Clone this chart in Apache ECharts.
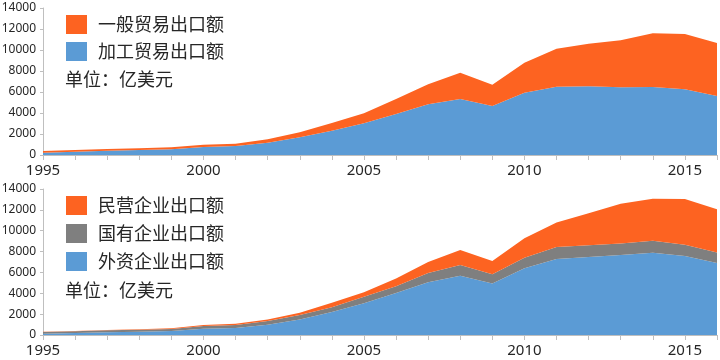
<!DOCTYPE html>
<html><head><meta charset="utf-8">
<script src="https://cdn.jsdelivr.net/npm/echarts@6/dist/echarts.min.js"></script>
<style>html,body{margin:0;padding:0;background:#fff}#c{width:720px;height:360px}</style>
</head><body><div id="c"></div>
<script>
const years = ['1995','1996','1997','1998','1999','2000','2001','2002','2003','2004','2005','2006','2007','2008','2009','2010','2011','2012','2013','2014','2015','2016'];
// Top chart
const processingExport = [220,320,410,475,540,760,855,1175,1685,2320,3015,3905,4825,5335,4665,5935,6510,6540,6445,6475,6255,5620];
const generalExport = [160,160,160,160,190,220,225,320,475,730,950,1430,1905,2510,2030,2860,3620,4065,4475,5110,5270,5050];
// Bottom chart
const foreignExport = [127,190,254,318,382,604,668,986,1495,2194,3053,4039,5056,5692,4929,6392,7282,7473,7664,7886,7568,6901];
const stateExport = [163,160,191,191,190,255,286,350,413,477,604,636,891,1018,890,1017,1145,1145,1113,1145,1082,1017];
const privateExport = [28,32,32,31,64,95,127,159,223,414,445,731,1049,1431,1272,1877,2353,3053,3816,4039,4388,4134];
const yTicks = {min:0, max:14000, interval:2000};
const unitText = '单位：亿美元';

const ORANGE='#FD6321', BLUE='#5B9BD5', GRAY='#7F7F7F';
const numFont = '"Noto Sans", "DejaVu Sans", sans-serif';
const cjkFont = '"Noto Sans CJK SC", sans-serif';

function xAxis(gi){
  return {type:'category', gridIndex:gi, data:years, boundaryGap:false,
    axisLine:{lineStyle:{color:'#BFBFBF', width:1}},
    axisTick:{show:true, interval:0, length:5, lineStyle:{color:'#BFBFBF'}},
    axisLabel:{interval:4, color:'#262626', fontSize:15, fontFamily:numFont, margin:8},
    splitLine:{show:false}};
}
function yAxis(gi){
  return {type:'value', gridIndex:gi, min:yTicks.min, max:yTicks.max, interval:yTicks.interval,
    axisLine:{show:true, lineStyle:{color:'#BFBFBF', width:1}},
    axisTick:{show:true, length:3, lineStyle:{color:'#BFBFBF'}},
    axisLabel:{color:'#262626', fontSize:12, fontFamily:numFont, margin:7, formatter:(v)=>String(v)},
    splitLine:{show:false}};
}
function area(name, data, color, gi, stack){
  return {name, type:'line', xAxisIndex:gi, yAxisIndex:gi, stack, data,
    symbol:'none', showSymbol:false, lineStyle:{width:0, color}, itemStyle:{color},
    areaStyle:{color, opacity:1}, emphasis:{disabled:true}, animation:false};
}
const legendCommon = {orient:'vertical', left:61, icon:'rect', itemWidth:21, itemHeight:19,
  textStyle:{fontSize:18, color:'#262626', fontFamily:cjkFont, padding:[0,0,0,6]}, selectedMode:false};

const chart = echarts.init(document.getElementById('c'), null, {renderer:'canvas'});
chart.setOption({
  animation:false,
  grid:[{left:43, right:3, top:8, height:147, containLabel:false, outerBoundsMode:'none'},
        {left:43, right:3, top:189, height:146, containLabel:false, outerBoundsMode:'none'}],
  xAxis:[xAxis(0), xAxis(1)],
  yAxis:[yAxis(0), yAxis(1)],
  legend:[
    Object.assign({}, legendCommon, {top:10, itemGap:8, data:['一般贸易出口额','加工贸易出口额']}),
    Object.assign({}, legendCommon, {top:191, itemGap:9, data:['民营企业出口额','国有企业出口额','外资企业出口额']})
  ],
  title:[
    {text:unitText, left:60, top:65, textStyle:{fontSize:18, fontWeight:'normal', color:'#262626', fontFamily:cjkFont}},
    {text:unitText, left:60, top:276, textStyle:{fontSize:18, fontWeight:'normal', color:'#262626', fontFamily:cjkFont}}
  ],
  series:[
    area('加工贸易出口额', processingExport, BLUE, 0, 'a'),
    area('一般贸易出口额', generalExport, ORANGE, 0, 'a'),
    area('外资企业出口额', foreignExport, BLUE, 1, 'b'),
    area('国有企业出口额', stateExport, GRAY, 1, 'b'),
    area('民营企业出口额', privateExport, ORANGE, 1, 'b')
  ]
});
</script></body></html>
